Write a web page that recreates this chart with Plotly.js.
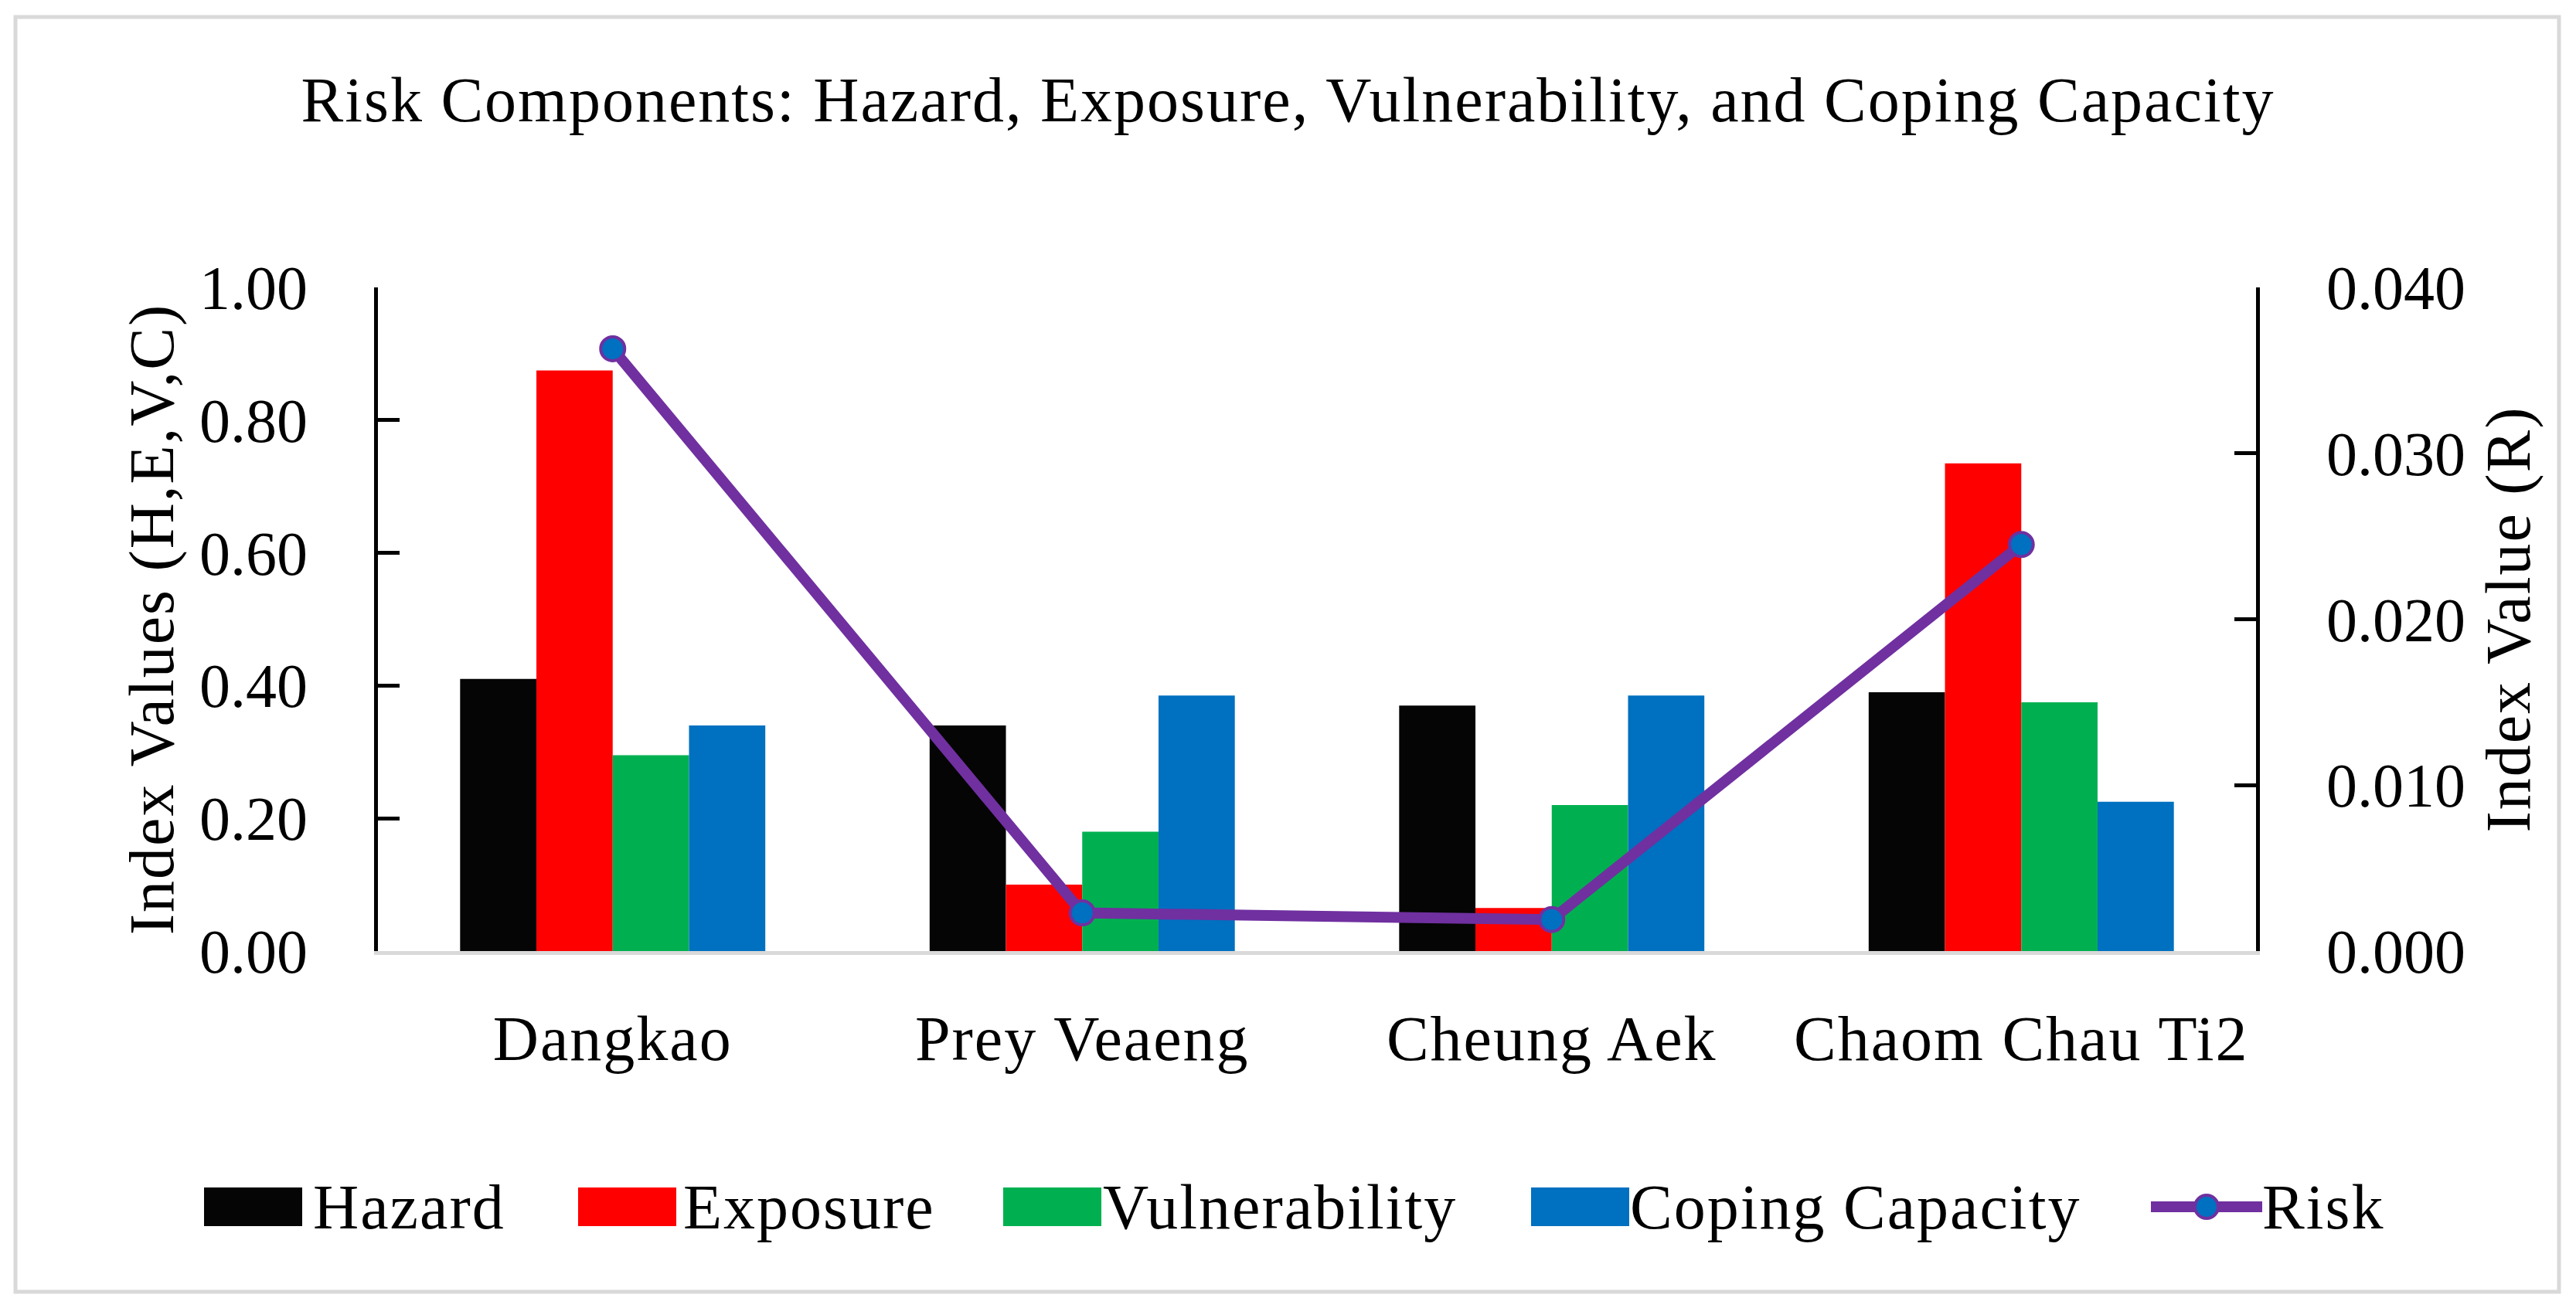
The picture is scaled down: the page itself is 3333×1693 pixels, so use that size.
<!DOCTYPE html>
<html>
<head>
<meta charset="utf-8">
<script src="https://cdn.plot.ly/plotly-3.0.1.min.js"></script>
<style>
  html, body { margin: 0; padding: 0; background: #ffffff; }
  #chart { width: 3333px; height: 1693px; }
  /* reference uses a wider book face; widen words slightly */
  #chart .gtitle, #chart .annotation-text, #chart .xtick text,
  #chart .ytitle, #chart .y2title { letter-spacing: 2px; }
</style>
</head>
<body>
<div id="chart"></div>
<script>
// ---- Data ----
const categories = ['Dangkao', 'Prey Veaeng', 'Cheung Aek', 'Chaom Chau Ti2'];
const hazard = [0.41, 0.34, 0.37, 0.39];
const exposure = [0.875, 0.10, 0.065, 0.735];
const vulnerability = [0.295, 0.18, 0.22, 0.375];
const copingCapacity = [0.34, 0.385, 0.385, 0.225];
const risk = [0.0363, 0.0023, 0.0019, 0.0245];
const seriesNames = ['Hazard', 'Exposure', 'Vulnerability', 'Coping Capacity', 'Risk'];
const leftTickVals = [0, 0.2, 0.4, 0.6, 0.8, 1.0];
const rightTickVals = [0, 0.01, 0.02, 0.03, 0.04];

// ---- Styling ----
const FONT = 'Liberation Serif, Times New Roman, serif';
const FS = 82;
const TFS = 80;
const colors = ['#050505', '#FF0000', '#00B050', '#0070C0'];
const riskColor = '#7030A0';
const riskMarker = '#0070C0';

const W = 3333, H = 1693;
const L = 489, R = 2919, T = 372, B = 1231;
const xp = px => (px - L) / (R - L);
const yp = py => (B - py) / (B - T);

const barSeries = [hazard, exposure, vulnerability, copingCapacity];
const traces = barSeries.map((vals, i) => ({
  type: 'bar',
  name: seriesNames[i],
  x: categories,
  y: vals,
  marker: { color: colors[i], line: { width: 0 } },
  yaxis: 'y',
  hoverinfo: 'x+y+name'
}));
traces.push({
  type: 'scatter',
  mode: 'lines+markers',
  name: seriesNames[4],
  x: categories,
  y: risk,
  yaxis: 'y2',
  line: { color: riskColor, width: 14 },
  marker: { size: 31, color: riskMarker, line: { color: riskColor, width: 4 } },
  cliponaxis: false
});

// ---- Custom legend (decoration, built from series names/colours) ----
const swatchLeft = [264, 748, 1298, 1981];
const textLeft = [409, 890, 1438, 2122, 2929];
const legendY = 1562;
const shapes = [];
const annotations = [];
for (let i = 0; i < 4; i++) {
  shapes.push({
    type: 'rect', xref: 'paper', yref: 'paper',
    x0: xp(swatchLeft[i]), x1: xp(swatchLeft[i] + 127),
    y0: yp(legendY + 25), y1: yp(legendY - 25),
    fillcolor: colors[i], line: { width: 0 }
  });
}
shapes.push({
  type: 'line', xref: 'paper', yref: 'paper',
  x0: xp(2783), x1: xp(2927), y0: yp(legendY), y1: yp(legendY),
  line: { color: riskColor, width: 14 }
});
shapes.push({
  type: 'circle', xref: 'paper', yref: 'paper',
  x0: xp(2855 - 15), x1: xp(2855 + 15), y0: yp(legendY + 15), y1: yp(legendY - 15),
  fillcolor: riskMarker, line: { color: riskColor, width: 4 }
});
for (let i = 0; i < 5; i++) {
  annotations.push({
    xref: 'paper', yref: 'paper', x: xp(textLeft[i]), y: yp(legendY),
    xanchor: 'left', yanchor: 'middle', showarrow: false,
    text: seriesNames[i], font: { family: FONT, size: FS, color: '#000' }
  });
}
// outer frame
shapes.push({
  type: 'rect', xref: 'paper', yref: 'paper',
  x0: xp(20), x1: xp(3311), y0: yp(1672), y1: yp(22),
  line: { color: '#d9d9d9', width: 5 }, fillcolor: 'rgba(0,0,0,0)', layer: 'below'
});

const axisCommon = {
  showgrid: false, zeroline: false,
  showline: true, linecolor: '#000', linewidth: 5,
  ticks: 'inside', ticklen: 28, tickwidth: 5, tickcolor: '#000',
  tickfont: { family: FONT, size: TFS, color: '#000' },
  ticklabelstandoff: 70,
  layer: 'above traces'
};

const layout = {
  width: W, height: H,
  margin: { l: L, r: W - R, t: T, b: H - B, pad: 0 },
  paper_bgcolor: '#ffffff', plot_bgcolor: '#ffffff',
  showlegend: false,
  barmode: 'group', bargap: 0.35, bargroupgap: 0,
  font: { family: FONT, size: FS, color: '#000' },
  title: {
    text: 'Risk Components: Hazard, Exposure, Vulnerability, and Coping Capacity',
    font: { family: FONT, size: FS, color: '#000' },
    x: 0.5, xanchor: 'center', xref: 'container',
    y: 1 - 128 / H, yanchor: 'middle', yref: 'container'
  },
  xaxis: {
    type: 'category',
    showgrid: false, zeroline: false,
    showline: true, linecolor: '#d9d9d9', linewidth: 5,
    ticks: '', tickfont: { family: FONT, size: FS, color: '#000' },
    ticklabelstandoff: 38
  },
  yaxis: Object.assign({}, axisCommon, {
    range: [0, 1], tickvals: leftTickVals, tickformat: '.2f',
    title: { text: 'Index Values (H,E,V,C)', font: { family: FONT, size: FS, color: '#000' }, standoff: 8 }
  }),
  yaxis2: Object.assign({}, axisCommon, {
    overlaying: 'y', side: 'right',
    range: [0, 0.04], tickvals: rightTickVals, tickformat: '.3f',
    title: { text: 'Index Value (R)', font: { family: FONT, size: FS, color: '#000' }, standoff: 28 }
  }),
  shapes: shapes,
  annotations: annotations
};

Plotly.newPlot('chart', traces, layout, { displayModeBar: false, staticPlot: true });
</script>
</body>
</html>
